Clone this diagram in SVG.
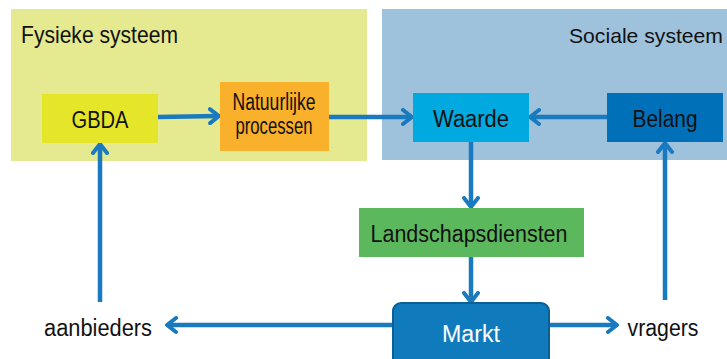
<svg xmlns="http://www.w3.org/2000/svg" width="727" height="359" viewBox="0 0 727 359">
<style>
  text { font-family: "Liberation Sans", Arial, sans-serif; fill: #111; }
  .lbl { font-size: 23px; text-anchor: middle; }
  .conn { stroke: #1a7abf; stroke-width: 4.5; fill: none; marker-end: url(#arr); }
</style>
<defs>
  <marker id="arr" markerUnits="userSpaceOnUse" viewBox="0 0 14 18" markerWidth="14" markerHeight="18" refX="10" refY="9" orient="auto">
    <path d="M2,2 L11,9 L2,16" fill="none" stroke="#1a7abf" stroke-width="4" stroke-linecap="round" stroke-linejoin="round"/>
  </marker>
</defs>
<rect width="727" height="359" fill="#ffffff"/>
<g id="fysiek-systeem">
  <rect x="11" y="9" width="356" height="152" fill="#e5e98f"/>
  <text x="21" y="43" font-size="24" textLength="157" lengthAdjust="spacingAndGlyphs">Fysieke systeem</text>
</g>
<g id="sociaal-systeem">
  <rect x="382" y="9" width="345" height="151" fill="#9fc2dc"/>
  <text x="569" y="43" font-size="21" textLength="154" lengthAdjust="spacingAndGlyphs">Sociale systeem</text>
</g>
<g id="connectors">
  <path class="conn" d="M158,117 L218,116"/>
  <path class="conn" d="M329,117 L411,117"/>
  <path class="conn" d="M607,117 L531,117"/>
  <path class="conn" d="M471,142 L471,206"/>
  <path class="conn" d="M471,257 L471,301"/>
  <path class="conn" d="M393,325 L168,325"/>
  <path class="conn" d="M549,325 L616,325"/>
  <path class="conn" d="M100,302 L100,145"/>
  <path class="conn" d="M665,300 L665,144"/>
</g>
<g id="gbda">
  <rect x="42" y="94" width="116" height="49" fill="#e5e52a"/>
  <text class="lbl" x="100" y="128" textLength="57" lengthAdjust="spacingAndGlyphs">GBDA</text>
</g>
<g id="natuurlijke-processen">
  <rect x="220" y="82" width="109" height="69" fill="#f9b02a"/>
  <text class="lbl" x="274" y="110" font-size="18" textLength="83" lengthAdjust="spacingAndGlyphs">Natuurlijke</text>
  <text class="lbl" x="274" y="134" font-size="18" textLength="77" lengthAdjust="spacingAndGlyphs">processen</text>
</g>
<g id="waarde">
  <rect x="413" y="93" width="116" height="49" fill="#00a9e0"/>
  <text class="lbl" x="471" y="127" textLength="76" lengthAdjust="spacingAndGlyphs">Waarde</text>
</g>
<g id="belang">
  <rect x="607" y="93" width="116" height="49" fill="#0070b8"/>
  <text class="lbl" x="665" y="127" textLength="65" lengthAdjust="spacingAndGlyphs">Belang</text>
</g>
<g id="landschapsdiensten">
  <rect x="359" y="208" width="225" height="49" fill="#5cb85c"/>
  <text class="lbl" x="469" y="242" textLength="197" lengthAdjust="spacingAndGlyphs">Landschapsdiensten</text>
</g>
<g id="markt">
  <rect x="393" y="303" width="156" height="70" rx="8" fill="#0f7bbd" stroke="#0b5f95" stroke-width="2"/>
  <text class="lbl" x="471" y="342" style="fill:#ffffff" textLength="58" lengthAdjust="spacingAndGlyphs">Markt</text>
</g>
<g id="aanbieders">
  <text class="lbl" x="98" y="336" textLength="108" lengthAdjust="spacingAndGlyphs">aanbieders</text>
</g>
<g id="vragers">
  <text class="lbl" x="663" y="336" textLength="71" lengthAdjust="spacingAndGlyphs">vragers</text>
</g>
</svg>
